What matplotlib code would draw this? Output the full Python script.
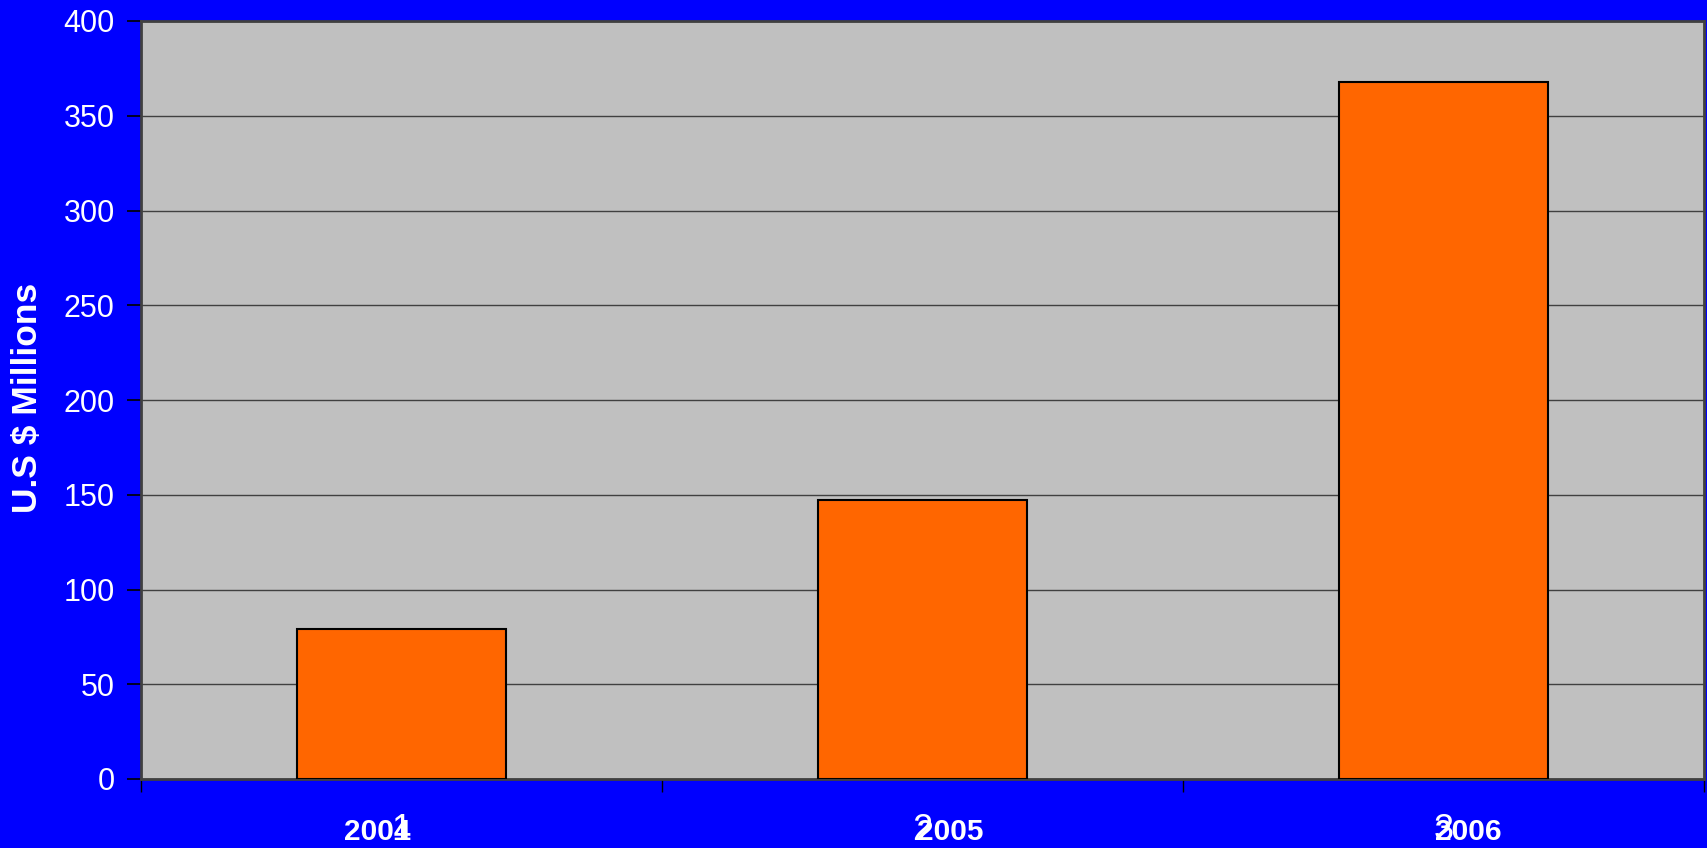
import numpy as np
import matplotlib.pyplot as plt

years = ['2004', '2005', '2006']
cat_labels = ['1', '2', '3']
values = [79, 147, 368]

yticks = [0, 50, 100, 150, 200, 250, 300, 350, 400]

plt.rcParams['font.family'] = ['Liberation Sans', 'DejaVu Sans']

fig = plt.figure(figsize=(17.08, 8.48), dpi=100, facecolor='#0000FF')
ax = fig.add_axes([141/1708, 69/848, 1563/1708, 758/848])
ax.set_facecolor('#C0C0C0')

x = np.arange(len(years))
ax.bar(x, values, width=0.4, color='#FF6600', edgecolor='black', linewidth=1.5, zorder=3)

ax.set_xlim(-0.5, 2.5)
ax.set_ylim(0, 400)
ax.set_yticks(yticks)
ax.set_yticklabels([str(v) for v in yticks], fontsize=22, color='white')
ax.yaxis.grid(True, color='#404040', linewidth=1)
ax.set_axisbelow(True)

# boundary ticks, no labels
ax.set_xticks([-0.5, 0.5, 1.5, 2.5])
ax.set_xticklabels([])
ax.tick_params(axis='x', direction='out', length=9, width=1, color='black')
ax.tick_params(axis='y', direction='out', length=10, width=1.2, color='black', pad=9)

for s in ax.spines.values():
    s.set_color('#404040')
    s.set_linewidth(2)

# overlapping category labels (as in the original slide)
offsets = [-24, 28, 25]
for i in range(len(years)):
    ax.annotate(cat_labels[i], xy=(x[i], 0), xycoords=('data', 'axes fraction'),
                xytext=(0, -61), textcoords='offset pixels', ha='center', va='baseline',
                fontsize=26, color='white')
    ax.annotate(years[i], xy=(x[i], 0), xycoords=('data', 'axes fraction'),
                xytext=(offsets[i], -61), textcoords='offset pixels', ha='center', va='baseline',
                fontsize=21.5, fontweight='bold', color='white')

fig.text(28/1708, 1 - 398/848, 'U.S $ Millions', rotation=90, ha='center', va='center',
         fontsize=25.5, fontweight='bold', color='white')

fig.savefig('out.png', dpi=100, facecolor=fig.get_facecolor())
